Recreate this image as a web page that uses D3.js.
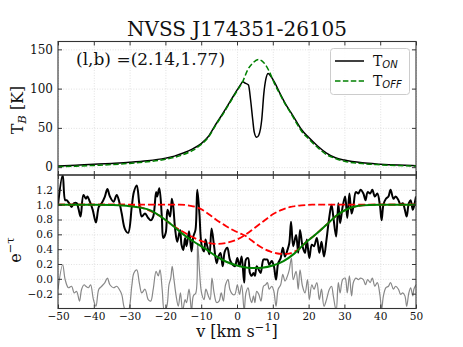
<!DOCTYPE html>
<html><head><meta charset="utf-8">
<script src="https://cdn.jsdelivr.net/npm/d3@7"></script>
<style>body{margin:0;background:#fff}svg{display:block}</style>
</head><body>
<svg id="c" width="463" height="347"></svg>
<script>
// ---------- data ----------
const titleText = "NVSS J174351-26105";
const posText = "(l,b) =(2.14,1.77)";
const xTicks = [-50,-40,-30,-20,-10,0,10,20,30,40,50];
const topYTicks = [0,50,100,150];
const botYTicks = [-0.2,0,0.2,0.4,0.6,0.8,1.0,1.2];

const tOffV = [-50,-45,-40,-35,-30,-25,-20,-17.5,-15,-12.5,-10,-8,-6,-4,-2,0,1.5,3,4.5,6,7.5,9,10.5,12,13.5,15,16.5,18,20,22.5,25,27.5,30,35,40,45,50];
const tOffK = [0.5,1.2,2.2,3.3,4.8,6.8,10,12.5,16,21,29,38,53,67,82,97,108,124,133,137,133,122,106,93,80,69,57,46,36,25,16,11,7.5,4.5,3,2,1.3];

const tOnV = [-50,-45,-40,-35,-30,-25,-20,-17.5,-15,-12.5,-10,-8,-6,-4,-2,0,1,1.6,2.3,3.2,3.8,4.4,4.8,5.5,6.1,6.9,7.5,8.1,8.7,9.7,10.5,12,13.5,15,16.5,18,20,22.5,25,27.5,30,35,40,45,50];
const tOnK = [1.5,2.5,3.6,4.8,6.2,8.2,11.5,14,18,23,30,39,54,68,83,98,105,108.8,107,104.6,85.5,60,45,38,41,60,94,113,119.4,114,108,94,81,70,59,48,38,27,18,12,9,5.5,3.8,2.6,1.8];

const tauV = [-50.0,-48.7,-48.0,-47.6,-46.9,-46.2,-45.5,-44.8,-44.3,-43.7,-42.9,-42.2,-41.8,-41.1,-40.3,-39.4,-38.6,-37.8,-36.9,-36.2,-35.5,-34.5,-33.6,-32.9,-32.2,-31.3,-30.4,-29.4,-28.8,-28.0,-27.3,-26.6,-25.7,-24.8,-24.1,-23.4,-22.6,-22.3,-21.7,-21.0,-20.6,-19.9,-19.4,-18.7,-18.2,-17.8,-17.3,-16.7,-15.9,-15.5,-15.0,-14.5,-14.1,-13.4,-12.7,-12.2,-11.6,-11.1,-10.5,-9.9,-9.2,-8.8,-8.3,-7.7,-7.1,-6.4,-5.7,-5.2,-4.6,-4.0,-3.4,-2.7,-2.0,-1.2,-0.6,0.1,0.7,1.3,2.0,2.5,3.1,3.6,4.1,4.6,5.0,5.5,6.0,6.6,7.4,8.0,8.5,9.0,9.7,10.3,10.9,11.5,12.2,12.8,13.4,14.1,14.6,15.1,15.7,16.5,17.1,17.6,18.3,19.0,19.5,20.2,20.9,21.5,22.3,23.0,23.6,24.3,25.0,25.8,26.4,26.9,27.7,28.3,28.8,29.5,30.2,30.8,31.4,32.0,32.5,33.2,33.9,34.5,35.3,35.9,36.5,37.2,37.8,38.5,39.2,39.9,40.4,40.9,41.6,42.3,42.9,43.7,44.3,45.1,45.7,46.3,46.9,47.4,48.0,48.5,49.1,49.4,50.0];
const tauVal = [1.00,1.40,1.06,1.06,1.02,0.97,1.02,1.02,0.95,0.84,1.13,1.08,1.11,1.04,0.93,0.76,0.97,1.02,1.11,1.21,1.11,1.04,1.13,1.04,0.88,0.67,0.62,0.97,1.17,1.26,1.02,0.84,0.88,0.82,0.79,0.84,1.17,1.11,1.22,0.84,0.55,0.62,0.93,0.84,1.08,0.97,0.68,0.50,0.66,0.46,0.39,0.55,0.44,0.64,0.37,0.57,0.66,1.20,0.88,0.46,0.37,0.53,0.44,0.33,0.68,0.44,0.21,0.30,0.35,0.17,0.37,0.42,0.26,0.19,0.17,0.28,0.17,0.30,-0.05,0.26,0.28,0.08,0.04,0.08,0.04,0.17,0.13,0.08,0.26,0.26,0.26,0.19,0.24,0.17,-0.01,0.21,0.28,0.42,0.30,0.39,0.48,0.77,0.44,0.59,0.35,0.66,0.44,0.35,0.53,0.28,0.46,0.44,0.55,0.35,0.50,0.30,0.53,0.84,1.00,0.84,0.57,1.02,0.75,0.97,1.11,0.82,1.15,0.88,0.97,1.17,1.15,1.20,1.15,1.06,1.17,1.15,1.20,1.11,1.15,1.00,0.79,1.00,1.08,1.11,1.20,1.08,1.11,1.06,1.00,1.02,0.93,0.84,1.02,1.06,0.93,0.97,1.11];

const resV = [-50.0,-48.7,-48.0,-47.1,-46.2,-45.5,-44.8,-44.0,-43.4,-42.7,-42.2,-41.5,-40.9,-40.1,-39.4,-38.6,-37.8,-36.9,-36.2,-35.5,-34.5,-33.6,-32.9,-32.2,-31.3,-30.4,-29.4,-28.8,-28.0,-27.3,-26.6,-25.7,-24.8,-24.1,-23.4,-22.6,-22.0,-21.5,-20.9,-20.3,-19.6,-19.0,-18.5,-18.1,-17.6,-17.0,-16.4,-15.8,-15.2,-14.5,-14.1,-13.4,-12.7,-12.2,-11.5,-11.0,-10.5,-9.9,-9.2,-8.7,-8.0,-7.5,-7.0,-6.4,-5.7,-5.0,-4.4,-3.8,-3.2,-2.5,-2.0,-1.2,-0.6,0.1,0.7,1.3,2.0,2.5,3.1,3.6,4.1,4.6,5.0,5.5,6.1,6.7,7.4,8.0,8.5,9.0,9.7,10.3,10.9,11.5,12.2,12.8,13.4,14.1,14.6,15.2,15.7,16.5,17.1,17.6,18.3,19.0,19.7,20.2,20.9,21.5,22.3,23.0,23.6,24.3,25.0,25.8,26.4,26.9,27.7,28.3,28.8,29.5,30.2,30.8,31.4,32.0,32.5,33.2,33.9,34.5,35.3,35.9,36.5,37.2,37.8,38.5,39.2,39.9,40.4,40.9,41.6,42.3,42.9,43.7,44.3,45.1,45.7,46.3,46.9,47.4,48.0,48.5,49.1,49.4,50.0];
const resVal = [-0.14,0.19,-0.01,-0.12,-0.10,-0.19,-0.17,-0.30,-0.14,-0.08,-0.10,-0.12,-0.08,-0.28,-0.37,-0.14,-0.10,-0.05,0.01,-0.08,-0.12,-0.10,-0.14,-0.21,-0.41,-0.43,-0.10,0.08,0.12,-0.05,-0.19,-0.14,-0.28,-0.30,-0.14,0.10,0.04,0.12,-0.14,-0.43,-0.37,-0.08,0.01,0.17,-0.01,-0.23,-0.37,-0.19,-0.43,-0.28,-0.32,-0.14,-0.43,-0.23,-0.19,0.48,0.12,-0.19,-0.28,-0.14,-0.23,-0.28,0.01,-0.19,-0.32,-0.30,-0.19,-0.30,-0.08,-0.01,-0.14,-0.21,-0.21,-0.08,-0.21,-0.08,-0.43,-0.19,-0.12,-0.25,-0.32,-0.23,-0.32,-0.17,-0.21,-0.30,-0.10,-0.08,-0.05,-0.14,-0.10,-0.17,-0.37,-0.14,-0.08,0.06,-0.03,0.04,0.12,0.28,-0.01,0.10,-0.14,0.12,-0.10,-0.19,-0.01,-0.28,-0.08,-0.14,-0.05,-0.28,-0.14,-0.37,-0.28,-0.14,-0.10,-0.23,-0.43,-0.05,-0.19,-0.01,0.01,-0.19,0.04,-0.23,-0.05,0.01,-0.01,0.01,-0.01,-0.08,-0.01,-0.05,0.01,-0.10,-0.05,-0.21,-0.41,-0.23,-0.12,-0.10,-0.05,-0.14,-0.10,-0.14,-0.21,-0.19,-0.23,-0.37,-0.19,-0.12,-0.23,-0.14,-0.08];

const fitV = [-50,-40,-35,-30,-27,-24,-21,-18,-15,-12,-9,-6,-3,0,3,5,7,10,13,16,19,22,25,28,31,34,37,40,45,50];
const fitVal = [1.0,1.0,0.995,0.98,0.96,0.92,0.83,0.72,0.60,0.50,0.41,0.31,0.23,0.18,0.15,0.145,0.15,0.18,0.24,0.34,0.48,0.60,0.73,0.86,0.945,0.985,0.997,1.0,1.0,1.0];

const red1V = [-50,-32,-29,-26,-23.5,-21,-18.5,-16,-13.5,-11,-8.5,-5.5,-2.5,0,2.5,5,7.5,10,12.5,15,18,21,50];
const red1Val = [1.0,1.0,0.985,0.95,0.90,0.83,0.74,0.66,0.59,0.53,0.49,0.47,0.49,0.53,0.60,0.69,0.78,0.87,0.93,0.97,0.99,1.0,1.0];

const red2V = [-50,-16,-13,-11,-9,-7,-5,-3,-1,1,2.2,4,5.5,7.5,9.2,11,13,14.5,16,17.5,19,22,25,28,31,34,37,40,50];
const red2Val = [1.0,1.0,0.985,0.96,0.91,0.84,0.77,0.71,0.655,0.61,0.585,0.52,0.465,0.405,0.37,0.345,0.335,0.34,0.365,0.41,0.48,0.60,0.73,0.86,0.945,0.985,0.997,1.0,1.0];

// ---------- layout ----------
const svg = d3.select("#c");
const L = 58, R = 416, T1 = 41.5, MID = 175, B2 = 308.5;
const serif = "'DejaVu Serif', serif";
const x = d3.scaleLinear().domain([-50, 50]).range([L, R]);
const yT = d3.scaleLinear().domain([-10, 160]).range([MID, T1]);
const yB = d3.scaleLinear().domain([-0.4, 1.4]).range([B2, MID]);

const defs = svg.append("defs");
defs.append("clipPath").attr("id","clipT").append("rect").attr("x",L).attr("y",T1).attr("width",R-L).attr("height",MID-T1);
defs.append("clipPath").attr("id","clipB").append("rect").attr("x",L).attr("y",MID).attr("width",R-L).attr("height",B2-MID);

function grid(yScale, yTicks, top, bottom) {
  const g = svg.append("g");
  g.append("g").attr("transform",`translate(0,${bottom})`)
    .call(d3.axisBottom(x).tickValues(xTicks).tickSize(-(bottom-top)).tickFormat(""))
    .call(s => s.select(".domain").remove());
  g.append("g").attr("transform",`translate(${L},0)`)
    .call(d3.axisLeft(yScale).tickValues(yTicks).tickSize(-(R-L)).tickFormat(""))
    .call(s => s.select(".domain").remove());
  g.selectAll("line").attr("class","grid").attr("stroke","#d4d4d4").attr("stroke-width",0.7).attr("stroke-dasharray","1,1.6");
}
grid(yT, topYTicks, T1, MID);
grid(yB, botYTicks, MID, B2);

// ---------- top panel curves ----------
const lineT = d3.line().x(d=>x(d[0])).y(d=>yT(d[1])).curve(d3.curveMonotoneX);
svg.append("path").datum(d3.zip(tOnV, tOnK)).attr("clip-path","url(#clipT)")
  .attr("d", lineT).attr("fill","none").attr("stroke","#000").attr("stroke-width",1.5);
svg.append("path").datum(d3.zip(tOffV, tOffK)).attr("clip-path","url(#clipT)")
  .attr("d", lineT).attr("fill","none").attr("stroke","#008000").attr("stroke-width",1.5).attr("stroke-dasharray","5.5,2.4");

// ---------- bottom panel curves ----------
const lineNoisy = d3.line().x(d=>x(d[0])).y(d=>yB(d[1])).curve(d3.curveCatmullRom.alpha(0.5));
const lineSmooth = d3.line().x(d=>x(d[0])).y(d=>yB(d[1])).curve(d3.curveMonotoneX);
const gB = svg.append("g").attr("clip-path","url(#clipB)");
gB.append("path").datum(d3.zip(resV, resVal)).attr("d", lineNoisy)
  .attr("fill","none").attr("stroke","#888").attr("stroke-width",1.2);
gB.append("path").datum(d3.zip(tauV, tauVal)).attr("d", lineNoisy)
  .attr("fill","none").attr("stroke","#000").attr("stroke-width",2);
gB.append("path").datum(d3.zip(red1V, red1Val)).attr("d", lineSmooth)
  .attr("fill","none").attr("stroke","#ff0000").attr("stroke-width",1.8).attr("stroke-dasharray","7,3");
gB.append("path").datum(d3.zip(red2V, red2Val)).attr("d", lineSmooth)
  .attr("fill","none").attr("stroke","#ff0000").attr("stroke-width",1.8).attr("stroke-dasharray","7,3");
gB.append("path").datum(d3.zip(fitV, fitVal)).attr("d", lineSmooth)
  .attr("fill","none").attr("stroke","#008000").attr("stroke-width",2);

// ---------- axes ----------
function ticksAll(yScale, yTicks, top, bottom, yFmt, yFont, showX) {
  const tk = 4;
  const gl = svg.append("g").attr("class","ax").attr("transform",`translate(${L},0)`)
    .call(d3.axisLeft(yScale).tickValues(yTicks).tickSize(-tk).tickPadding(5).tickFormat(yFmt));
  gl.selectAll("text").attr("font-size", yFont);
  svg.append("g").attr("class","ax").attr("transform",`translate(${R},0)`)
    .call(d3.axisRight(yScale).tickValues(yTicks).tickSize(-tk).tickFormat(""));
  svg.append("g").attr("class","ax").attr("transform",`translate(0,${top})`)
    .call(d3.axisTop(x).tickValues(xTicks).tickSize(-tk).tickFormat(""));
  const gb = svg.append("g").attr("class","ax").attr("transform",`translate(0,${bottom})`)
    .call(d3.axisBottom(x).tickValues(xTicks).tickSize(-tk).tickPadding(4).tickFormat(showX ? d3.format("d") : ""));
  gb.selectAll("text").attr("font-size", 10.5);
}
ticksAll(yT, topYTicks, T1, MID, d3.format("d"), 12, false);
ticksAll(yB, botYTicks, MID, B2, d3.format(".1f"), 10.5, true);
svg.selectAll(".domain").remove();
svg.selectAll(".ax .tick line").attr("stroke","#222").attr("stroke-width",0.9);
svg.selectAll(".ax .tick text").attr("font-family", serif).attr("fill","#111");

// frames
svg.append("rect").attr("x",L).attr("y",T1).attr("width",R-L).attr("height",MID-T1)
  .attr("fill","none").attr("stroke","#333").attr("stroke-width",1.1);
svg.append("rect").attr("x",L).attr("y",MID).attr("width",R-L).attr("height",B2-MID)
  .attr("fill","none").attr("stroke","#333").attr("stroke-width",1.1);

// ---------- texts ----------
svg.append("text").attr("x",(L+R)/2).attr("y",35.5).attr("text-anchor","middle")
  .attr("font-family",serif).attr("font-size",20).attr("fill","#111").text(titleText);
svg.append("text").attr("x",76).attr("y",65).attr("font-family",serif).attr("font-size",17)
  .attr("fill","#111").text(posText);

const yl1 = svg.append("text").attr("transform","translate(23,110) rotate(-90)")
  .attr("text-anchor","middle").attr("font-family",serif).attr("font-size",16).attr("fill","#111");
yl1.append("tspan").text("T");
yl1.append("tspan").attr("font-style","italic").attr("font-size",11.5).attr("dy",3).text("B");
yl1.append("tspan").attr("dy",-3).text(" [K]");

const yl2 = svg.append("text").attr("transform","translate(21,250) rotate(-90)")
  .attr("text-anchor","middle").attr("font-family",serif).attr("font-size",16).attr("fill","#111");
yl2.append("tspan").text("e");
yl2.append("tspan").attr("font-size",11.5).attr("dy",-7).text("−τ");

const xl = svg.append("text").attr("x",(L+R)/2).attr("y",337).attr("text-anchor","middle")
  .attr("font-family",serif).attr("font-size",16).attr("fill","#111");
xl.append("tspan").text("v [km s");
xl.append("tspan").attr("font-size",11.5).attr("dy",-6).text("−1");
xl.append("tspan").attr("dy",6).text("]");

// ---------- legend ----------
const lg = svg.append("g");
lg.append("rect").attr("x",330.5).attr("y",48.5).attr("width",79).attr("height",46).attr("rx",3)
  .attr("fill","#fff").attr("fill-opacity",0.85).attr("stroke","#ccc").attr("stroke-width",1);
const legItems = [
  {label:"ON", color:"#000", dash:null, y:61},
  {label:"OFF", color:"#008000", dash:"5.5,2.4", y:81}
];
legItems.forEach(it => {
  lg.append("line").attr("x1",335).attr("x2",364).attr("y1",it.y).attr("y2",it.y)
    .attr("stroke",it.color).attr("stroke-width",1.5).attr("stroke-dasharray",it.dash);
  const t = lg.append("text").attr("x",373).attr("y",it.y+5).attr("font-family",serif)
    .attr("font-size",14).attr("fill","#111");
  t.append("tspan").text("T");
  t.append("tspan").attr("font-family","'DejaVu Sans', sans-serif").attr("font-style","italic")
    .attr("font-size",10).attr("dy",2).text(it.label);
});
</script>
</body></html>
